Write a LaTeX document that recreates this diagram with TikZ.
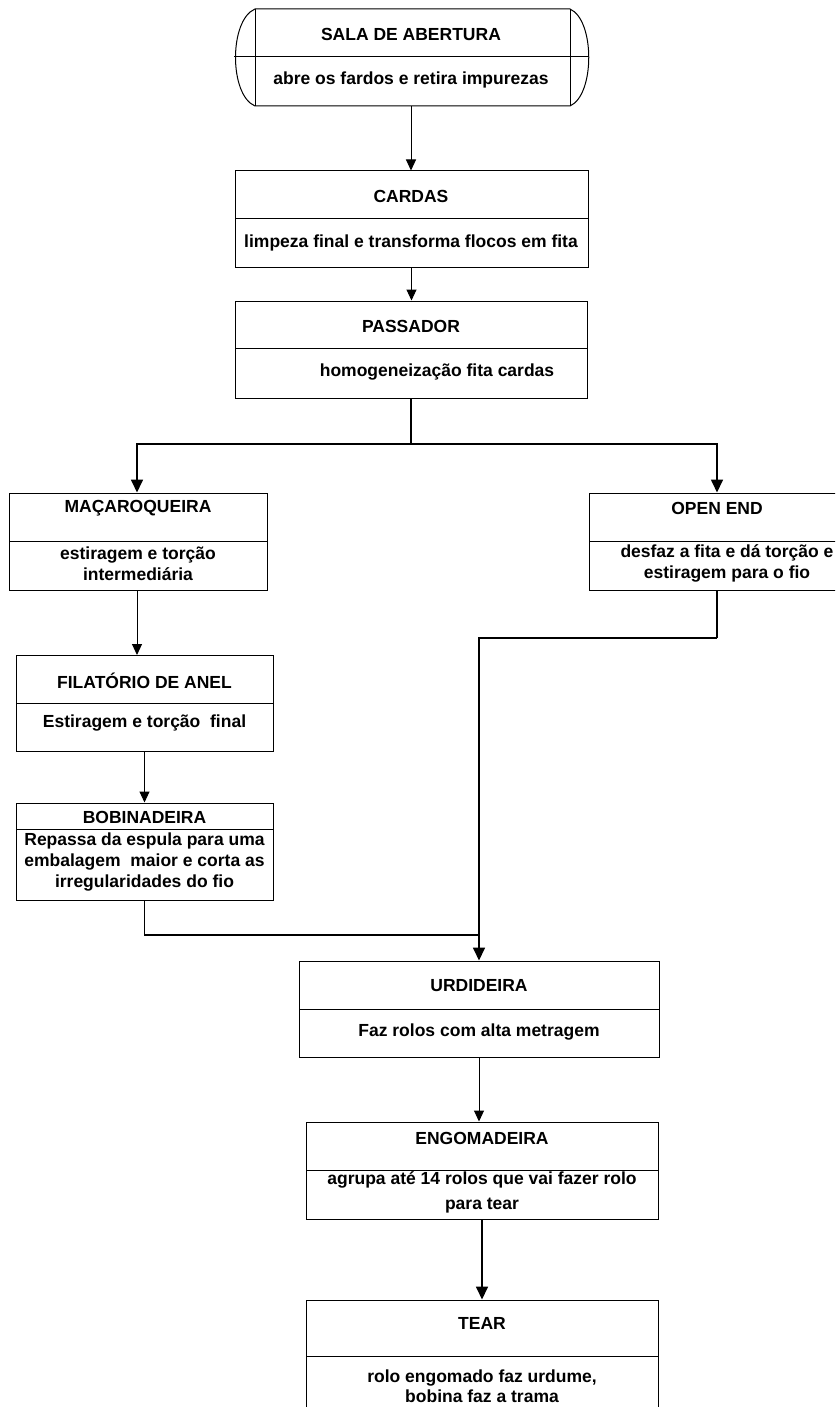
\documentclass[tikz,border=0pt]{standalone}
\usepackage{fontspec}
\setmainfont{Liberation Sans}
\usetikzlibrary{arrows.meta,fit}
\tikzset{
  box/.style={draw, line width=1pt, inner sep=0pt, fill=white},
  divline/.style={line width=1pt},
  ttl/.style={font=\bfseries\fontsize{17.5}{21}\selectfont, inner sep=0pt, align=center},
  thinarrow/.style={line width=1pt, -{Triangle[width=10pt,length=11pt]}},
  midline/.style={line width=1.4pt},
  thickarrow/.style={line width=1.7pt, -{Triangle[width=12pt,length=13pt]}},
  thickline/.style={line width=1.7pt}
}
\newcommand\pbox[6]{%
  \node[box, fit={(#2,#3)(#4,#5)}] (#1) {};
  \draw[divline] (#2,#6) -- (#4,#6);}
\begin{document}
\begin{tikzpicture}[x=1pt,y=-1pt]
\useasboundingbox (0,0) rectangle (835,1407);
\clip (0,0) rectangle (835,1407);
\fill[white] (0,0) rectangle (835,1407);

% terminal shape
\node[fit={(233,9)(589,106)}, inner sep=0pt] (sala) {};
\draw[line width=1pt, fill=white] (255,9) -- (570,9) .. controls (595,20) and (595,95) .. (570,106)
  -- (255,106) .. controls (229,95) and (229,20) .. (255,9) -- cycle;
\draw[divline] (255,9) -- (255,106);
\draw[divline] (570,9) -- (570,106);
\draw[divline] (234,57) -- (588,57);
\node[ttl] (sala-t) at (411,34) {SALA DE ABERTURA};
\node[ttl] (sala-d) at (411,80) {abre os fardos e retira impurezas};

\pbox{cardas}{235}{171}{588}{267}{218}
\node[ttl] (cardas-t) at (411,196) {CARDAS};
\node[ttl] (cardas-d) at (411,243) {limpeza final e transforma flocos em fita};

\pbox{passador}{235}{301}{587}{398}{348}
\node[ttl] (passador-t) at (411,326) {PASSADOR};
\node[ttl] (passador-d) at (437,372) {homogeneização fita cardas};

\pbox{maca}{9}{493}{267}{590}{541}
\node[ttl] (maca-t) at (138,508) {MAÇAROQUEIRA};
\node[ttl] (maca-d) at (138,563.5) {estiragem e torção\\intermediária};

\pbox{openend}{589}{493}{845}{590}{541}
\node[ttl] (openend-t) at (717,508) {OPEN END};
\node[ttl] (openend-d) at (727,563.5) {desfaz a fita e dá torção e\\estiragem para o fio};

\pbox{fil}{16}{655}{273}{751}{703}
\node[ttl] (fil-t) at (144.5,681) {FILATÓRIO DE ANEL};
\node[ttl] (fil-d) at (144.5,723) {Estiragem e torção\ \ final};

\pbox{bob}{16}{803}{273}{900}{829}
\node[ttl] (bob-t) at (144.5,817) {BOBINADEIRA};
\node[ttl] (bob-d) at (144.5,862) {Repassa da espula para uma\\embalagem\ \ maior e corta as\\irregularidades do fio};

\pbox{urd}{299}{961}{659}{1057}{1009}
\node[ttl] (urd-t) at (479,986) {URDIDEIRA};
\node[ttl] (urd-d) at (479,1032) {Faz rolos com alta metragem};

\pbox{engo}{306}{1122}{658}{1219}{1170}
\node[ttl] (engo-t) at (482,1138) {ENGOMADEIRA};
\node[ttl] (engo-d) at (482,1192.5) {agrupa até 14 rolos que vai fazer rolo\\[4pt]para tear};

\pbox{tear}{306}{1300}{658}{1420}{1356}
\node[ttl] (tear-t) at (482,1323) {TEAR};
\node[ttl] (tear-d) at (482,1386) {rolo engomado faz urdume,\\[-1pt]bobina faz a trama};

% connectors
\draw[thinarrow] (sala.south) -- (sala.south |- cardas.north);
\draw[thinarrow] (cardas.south) -- (cardas.south |- passador.north);
\coordinate (br) at (411,444);
\draw[thickline] (passador.south) -- (br);
\draw[thickarrow] (br) -| (maca.north -| 137,0);
\draw[thickarrow] (br) -| (openend.north);
\draw[thinarrow] (maca.south -| 137,0) -- (137,655);
\draw[thinarrow] (fil.south) -- (bob.north);
\coordinate (jn) at (479,935);
\draw[midline] (bob.south) |- (jn);
\coordinate (oe) at (717,638);
\draw[thickline] (openend.south) -- (oe);
\draw[thickarrow] (oe) -| (urd.north);
\draw[thinarrow] (urd.south) -- (urd.south |- engo.north);
\draw[thickarrow] (engo.south) -- (tear.north);
\end{tikzpicture}
\end{document}
